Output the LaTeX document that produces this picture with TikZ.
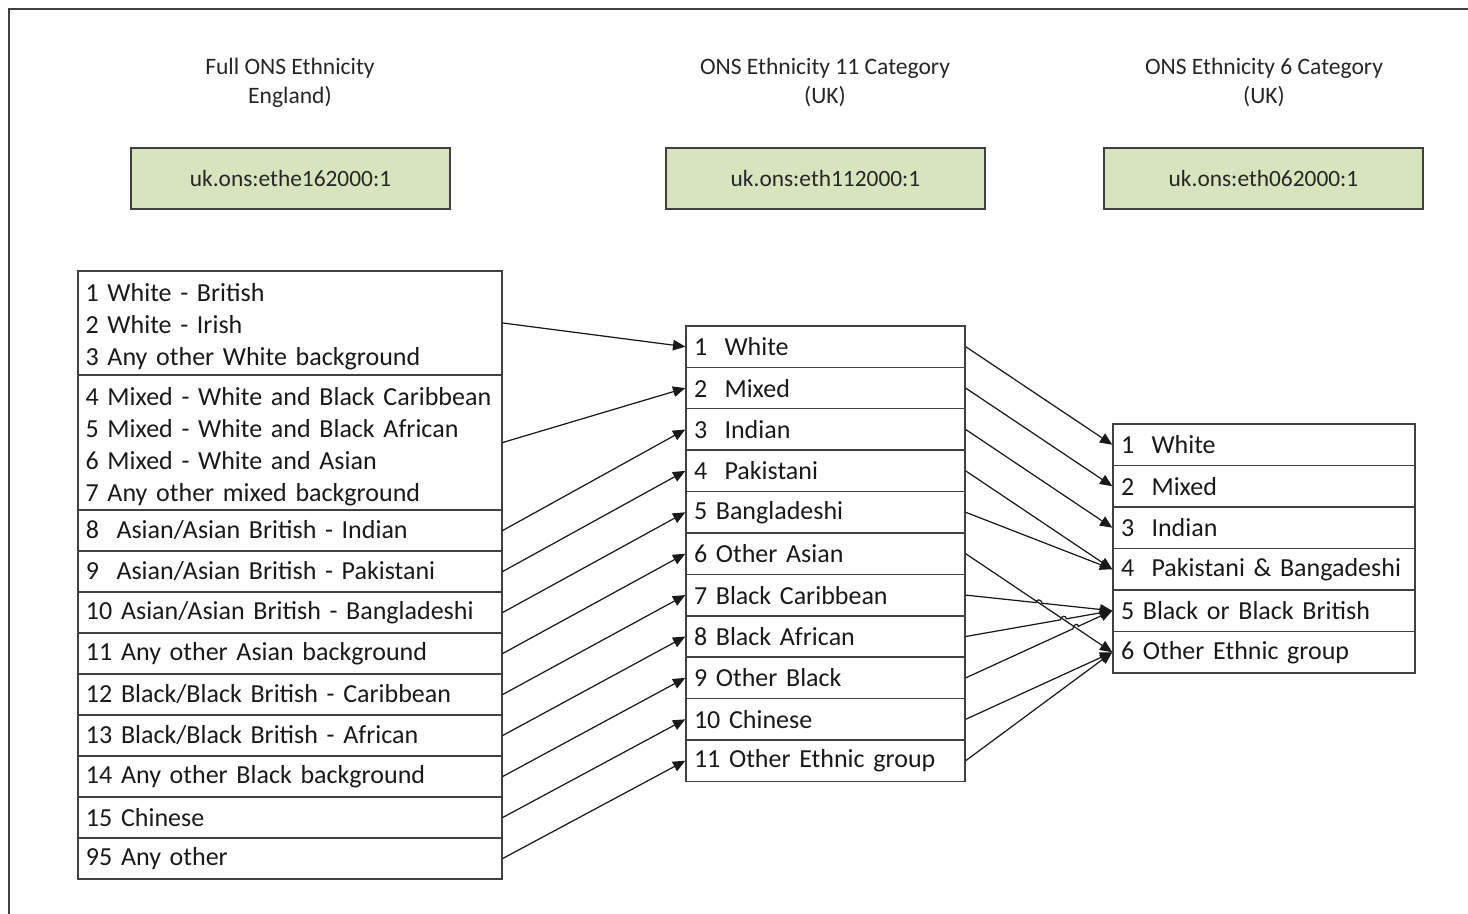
\documentclass[tikz,border=0pt]{standalone}
\usepackage{fontspec}
\setmainfont{Carlito}
\usetikzlibrary{arrows.meta,calc,intersections}
\definecolor{edge}{HTML}{404040}
\definecolor{idfill}{HTML}{D7E4BD}
\begin{document}
\begin{tikzpicture}[x=0.2mm,y=-0.2mm,
  frame/.style={draw=edge, line width=1.1pt},
  header/.style={align=center, font=\fontsize{13.4}{16.5}\selectfont, text=black!85, inner sep=0},
  idbox/.style={draw=edge, line width=0.8pt, fill=idfill, minimum width=63.8mm, minimum height=12.2mm,
                font=\fontsize{13.3}{16}\selectfont, text=black!85, inner sep=0},
  listfont/.style={font=\fontsize{14.8}{18.2}\selectfont, text=black!90},
  row/.style={draw=edge, line width=0.8pt, align=left, inner xsep=1.6mm, inner ysep=0, listfont},
  lrow/.style={row, text width=81.6mm, minimum height=8.2mm},
  mrow/.style={row, text width=52.6mm, minimum height=8.28mm},
  rrow/.style={row, text width=57.2mm, minimum height=8.3mm},
  grouptext/.style={anchor=west, align=left, text width=90mm, inner sep=0, listfont},
  conn/.style={draw=black!90, line width=0.7pt, -{Triangle[length=7pt,width=6pt]}}]

\useasboundingbox (0,0) rectangle (1468,914);

% outer frame (left and top edges)
\draw[frame] (9,930) -- (9,9) -- (1480,9);

% column headings
\node[header] (h1) at (290,82.5)  {Full ONS Ethnicity\\England)};
\node[header] (h2) at (825,82.5)  {ONS Ethnicity 11 Category\\(UK)};
\node[header] (h3) at (1264,82.5) {ONS Ethnicity 6 Category\\(UK)};

% classification identifiers
\node[idbox] (id1) at (290.5,178.5)  {uk.ons:ethe162000:1};
\node[idbox] (id2) at (825.5,178.5)  {uk.ons:eth112000:1};
\node[idbox] (id3) at (1263.5,178.5) {uk.ons:eth062000:1};

% full ethnicity list: two grouped boxes, then single rows
\node[lrow, minimum height=20.8mm] (g1) at (290,323) {};
\node[grouptext] (g1t) at ($(g1.west)+(8,4)$)
  {1 White - British\\2 White - Irish\\3 Any other White background};
\node[lrow, minimum height=27mm] (g2) at (290,442.5) {};
\node[grouptext] (g2t) at ($(g2.west)+(8,4)$)
  {4 Mixed - White and Black Caribbean\\5 Mixed - White and Black African\\6 Mixed - White and Asian\\7 Any other mixed background};
\node[lrow] (l8)  at (290,530.5) {8~ Asian/Asian British - Indian};
\node[lrow] (l9)  at (290,571.5) {9~ Asian/Asian British - Pakistani};
\node[lrow] (l10) at (290,612.5) {10 Asian/Asian British - Bangladeshi};
\node[lrow] (l11) at (290,653.5) {11 Any other Asian background};
\node[lrow] (l12) at (290,694.5) {12 Black/Black British - Caribbean};
\node[lrow] (l13) at (290,735.5) {13 Black/Black British - African};
\node[lrow] (l14) at (290,776.5) {14 Any other Black background};
\node[lrow] (l15) at (290,817.5) {15 Chinese};
\node[lrow] (l95) at (290,858.5) {95 Any other};

% 11 category list
\node[mrow] (m1)  at (825.5,346.7) {1~ White};
\node[mrow] (m2)  at (825.5,388.1) {2~ Mixed};
\node[mrow] (m3)  at (825.5,429.5) {3~ Indian};
\node[mrow] (m4)  at (825.5,470.9) {4~ Pakistani};
\node[mrow] (m5)  at (825.5,512.3) {5 Bangladeshi};
\node[mrow] (m6)  at (825.5,553.7) {6 Other Asian};
\node[mrow] (m7)  at (825.5,595.1) {7 Black Caribbean};
\node[mrow] (m8)  at (825.5,636.5) {8 Black African};
\node[mrow] (m9)  at (825.5,677.9) {9 Other Black};
\node[mrow] (m10) at (825.5,719.3) {10 Chinese};
\node[mrow] (m11) at (825.5,760.7) {11 Other Ethnic group};

% 6 category list
\node[rrow] (r1) at (1264,444.75) {1~ White};
\node[rrow] (r2) at (1264,486.25) {2~ Mixed};
\node[rrow] (r3) at (1264,527.75) {3~ Indian};
\node[rrow] (r4) at (1264,569.25) {4~ Pakistani \& Bangadeshi};
\node[rrow] (r5) at (1264,610.75) {5 Black or Black British};
\node[rrow] (r6) at (1264,652.25) {6 Other Ethnic group};

% full list -> 11 categories
\draw[conn] (g1.east)  -- (m1.west);
\draw[conn] (g2.east)  -- (m2.west);
\draw[conn] (l8.east)  -- (m3.west);
\draw[conn] (l9.east)  -- (m4.west);
\draw[conn] (l10.east) -- (m5.west);
\draw[conn] (l11.east) -- (m6.west);
\draw[conn] (l12.east) -- (m7.west);
\draw[conn] (l13.east) -- (m8.west);
\draw[conn] (l14.east) -- (m9.west);
\draw[conn] (l15.east) -- (m10.west);
\draw[conn] (l95.east) -- (m11.west);

% 11 categories -> 6 categories
\draw[conn] (m1.east)  -- (r1.west);
\draw[conn] (m2.east)  -- (r2.west);
\draw[conn] (m3.east)  -- (r3.west);
\draw[conn] (m4.east)  -- (r4.west);
\draw[conn] (m5.east)  -- (r4.west);
\draw[conn, name path=cross] (m6.east) -- (r6.west);
\draw[conn] (m10.east) -- (r6.west);
\draw[conn] (m11.east) -- (r6.west);

% Black groups jump over the Other Asian connector
\foreach \s in {7,8,9} {
  \path[name path=hop\s] (m\s.east) -- (r5.west);
  \path[name intersections={of=cross and hop\s, by=x\s}];
  \draw[conn] (m\s.east) -- ($(x\s)!0.6mm!(m\s.east)$)
    .. controls +(0,-4) and +(0,-4) .. ($(x\s)!0.6mm!(r5.west)$) -- (r5.west);
}
\end{tikzpicture}
\end{document}
